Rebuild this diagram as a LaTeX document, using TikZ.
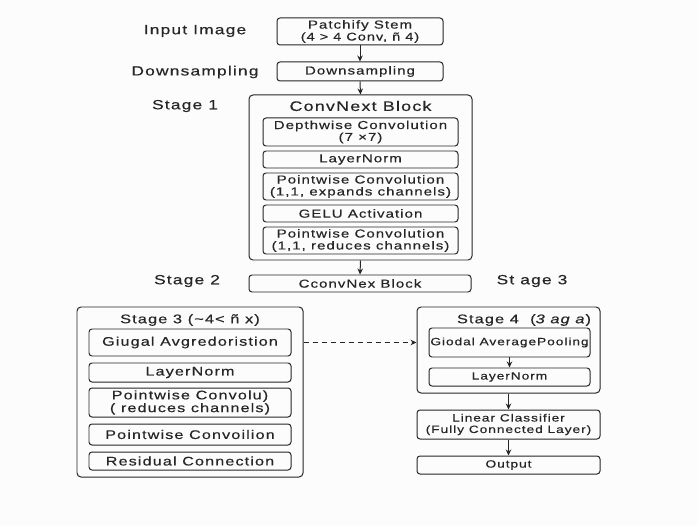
\documentclass[tikz,border=0pt]{standalone}
\usepackage{fontspec}
\setmainfont{Liberation Sans}[FakeStretch=1.3,LetterSpace=9,FakeBold=0.4]
\usetikzlibrary{arrows.meta}
\usetikzlibrary{positioning}
\definecolor{NetInk}{rgb}{.15,.15,.15}
\definecolor{NetPaper}{rgb}{.99,.99,.99}
\tikzset{
  blk/.style={rectangle, rounded corners=3pt, draw=NetInk, line width=1pt, inner sep=0pt,
    align=center, text=NetInk, font=\fontsize{11.6}{12}\selectfont},
  outerblk/.style={blk, rounded corners=4pt},
  lefttext/.style={font=\fontsize{12.5}{12.8}\selectfont},
  righttext/.style={font=\fontsize{10.6}{11.5}\selectfont},
  lbl/.style={text=NetInk, font=\fontsize{13.4}{15}\selectfont},
  ttl/.style={text=NetInk, font=\fontsize{12.6}{14}\selectfont},
  flow/.style={draw=NetInk, line width=1pt, -{Stealth[length=6pt,width=5.5pt]}},
}

\begin{document}
\begin{tikzpicture}[x=1bp, y=-1bp]
  \useasboundingbox [fill=NetPaper] (0,0) rectangle (698,526);
  %
  % stem and downsampling
  \node [blk, minimum width=166bp, minimum height=27bp] (stem) at (360,31.5)
    {Patchify Stem\\{\fontsize{11.2}{11}\selectfont (4 > 4 Conv, ñ 4)}};
  \node [blk, minimum width=166bp, minimum height=19bp] (down) at (360,71.5) {Downsampling};
  \node [lbl] (lin) at (195,31) {Input Image};
  \node [lbl] (ldown) at (195,72) {Downsampling};
  %
  % stage 1: convnext block
  \node [outerblk, minimum width=223bp, minimum height=165bp] (cnb) at (360.5,177.5) {};
  \node [ttl, font=\fontsize{13.8}{15}\selectfont] (cnbt) at (360.5,106) {ConvNext Block};
  \node [lbl] (ls1) at (185,106) {Stage 1};
  \node [blk, minimum width=195bp, minimum height=28bp] (dw) at (360.5,132)
    {Depthwise Convolution\\(7 ×7)};
  \node [blk, minimum width=195bp, minimum height=17bp] (ln) at (360.5,159.5) {LayerNorm};
  \node [blk, minimum width=195bp, minimum height=27bp] (pwa) at (360.5,186.5)
    {Pointwise Convolution\\(1,1, expands channels)};
  \node [blk, minimum width=195bp, minimum height=17bp] (gelu) at (360.5,213.5) {GELU Activation};
  \node [blk, minimum width=195bp, minimum height=27bp] (pwb) at (360.5,240.5)
    {Pointwise Convolution\\(1,1, reduces channels)};
  %
  % stage 2
  \node [blk, minimum width=222bp, minimum height=17bp] (s2) at (360,283.5) {CconvNex Block};
  \node [lbl] (ls2) at (187,281) {Stage 2};
  \node [lbl] (ls3) at (532,281) {St age 3};
  %
  % stage 3
  \node [outerblk, minimum width=226bp, minimum height=170bp] (st3) at (190,392) {};
  \node [ttl] (st3t) at (190,320) {Stage 3 (\textasciitilde 4< ñ x)};
  \node [blk, lefttext, minimum width=202bp, minimum height=27bp] (giu) at (190,342.5) {Giugal Avgredoristion};
  \node [blk, lefttext, minimum width=202bp, minimum height=19bp] (ln3) at (190,372.5) {LayerNorm};
  \node [blk, lefttext, minimum width=202bp, minimum height=29bp] (pw3) at (190,402.5)
    {Pointwise Convolu)\\( reduces channels)};
  \node [blk, lefttext, minimum width=202bp, minimum height=21bp] (pwc) at (190,434.5) {Pointwise Convoilion};
  \node [blk, lefttext, minimum width=202bp, minimum height=18bp] (res) at (190,461) {Residual Connection};
  %
  % stage 4 and head
  \node [outerblk, minimum width=183bp, minimum height=86bp] (st4) at (508.5,350) {};
  \node [ttl] (st4t) at (524,320) {Stage 4 \ (\textit{3 ag a})};
  \node [blk, righttext, minimum width=161bp, minimum height=29bp] (gap) at (509.5,342.5) {Giodal AveragePooling};
  \node [blk, righttext, minimum width=161bp, minimum height=18bp] (ln4) at (509.5,377) {LayerNorm};
  \node [blk, righttext, minimum width=183bp, minimum height=29bp] (cls) at (508.5,424.5)
    {Linear Classifier\\(Fully Connected Layer)};
  \node [blk, righttext, minimum width=183bp, minimum height=18bp] (out) at (508.5,465) {Output};
  %
  % arrows
  \draw [flow] (stem.south) -- (down.north);
  \draw [flow] (down.south) -- (cnb.north);
  \draw [flow] (cnb.south) -- (s2.north);
  \draw [flow] (gap.south) -- (ln4.north);
  \draw [flow] (st4.south) -- (cls.north);
  \draw [flow] (cls.south) -- (out.north);
  \draw [flow, dash pattern=on 5bp off 4bp] (st3.east |- giu) -- (st4.west |- giu);
\end{tikzpicture}
\end{document}
